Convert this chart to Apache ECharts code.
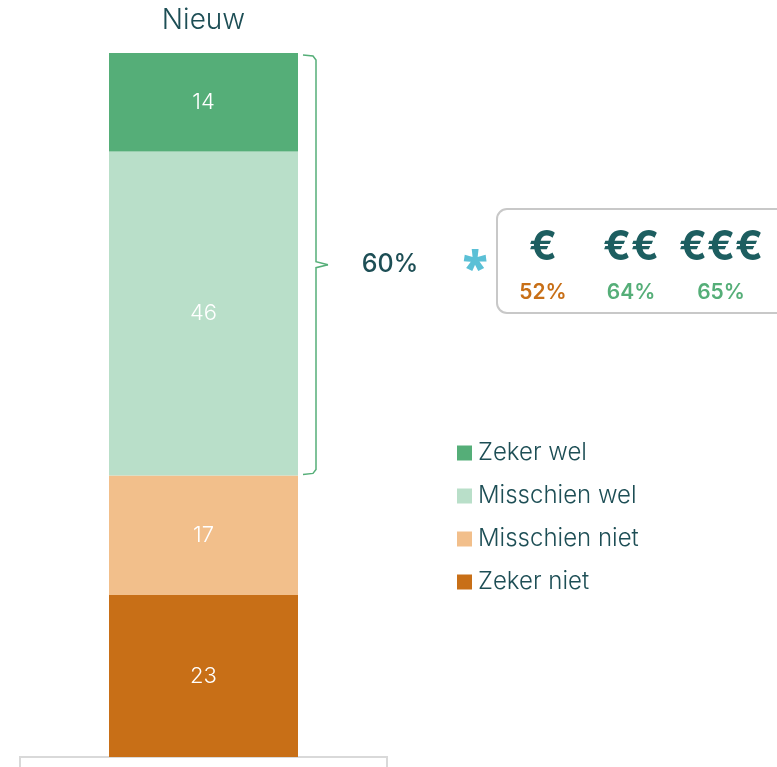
<!DOCTYPE html>
<html>
<head>
<meta charset="utf-8">
<script src="https://cdn.jsdelivr.net/npm/echarts@6/dist/echarts.min.js"></script>
<style>
  html, body { margin: 0; padding: 0; background: #fff; }
  #chart { width: 777px; height: 767px; }
</style>
</head>
<body>
<div id="chart"></div>
<script>
// data
var categories = ['Nieuw'];
var seriesNames = ['Zeker niet', 'Misschien niet', 'Misschien wel', 'Zeker wel'];
var seriesValues = [23, 17, 46, 14];
var seriesColors = ['#c86f17', '#f2bf8b', '#b9dfc9', '#55ae78'];
var legendOrder = ['Zeker wel', 'Misschien wel', 'Misschien niet', 'Zeker niet'];
var priceLabels = ['€', '€€', '€€€'];
var pricePercents = [52, 64, 65];
var priceColors = ['#c86f17', '#55ae78', '#55ae78'];

var textColor = '#1d4e55';
var font = 'Inter';

var el = document.getElementById('chart');
var chart = echarts.init(el);

var series = seriesNames.map(function (name, i) {
    return {
        name: name,
        type: 'bar',
        stack: 'total',
        barWidth: '100%',
        data: [seriesValues[i]],
        itemStyle: { color: seriesColors[i] },
        label: {
            show: true,
            position: 'inside',
            color: '#fff',
            fontFamily: font,
            fontWeight: 300,
            fontSize: 22
        }
    };
});

chart.setOption({
    animation: false,
    grid: { left: 109, width: 189, top: 53, bottom: 10 },
    xAxis: {
        type: 'category',
        position: 'top',
        data: categories,
        axisLine: { show: false },
        axisTick: { show: false },
        axisLabel: { color: textColor, fontFamily: font, fontWeight: 300, fontSize: 28, margin: 18 }
    },
    yAxis: { type: 'value', min: 0, max: 100, show: false },
    legend: {
        orient: 'vertical',
        left: 452,
        top: 436,
        itemGap: 19,
        itemWidth: 15,
        itemHeight: 15,
        icon: 'rect',
        data: legendOrder,
        textStyle: { color: textColor, fontFamily: font, fontWeight: 300, fontSize: 24, padding: [0, 0, 0, 1] }
    },
    series: series
});

// bracket + annotations, placed from the axis scale
function drawExtras() {
    var below = seriesValues[0] + seriesValues[1];
    var total = below + seriesValues[2] + seriesValues[3];
    var top = chart.convertToPixel({ gridIndex: 0 }, [categories[0], total]);
    var bottom = chart.convertToPixel({ gridIndex: 0 }, [categories[0], below]);
    var x = 316, y1 = top[1] + 2, y2 = bottom[1] - 1, ym = (y1 + y2) / 2;
    var share = seriesValues[2] + seriesValues[3];
    var bracketStyle = { stroke: '#55ae78', lineWidth: 1.5, fill: null };

    var elements = [
        { type: 'polyline', shape: { points: [[x - 13, y1], [x - 3, y1 + 1], [x, y1 + 5], [x, ym - 3], [x + 12, ym]] }, style: bracketStyle },
        { type: 'polyline', shape: { points: [[x + 12, ym], [x, ym + 3], [x, y2 - 5], [x - 3, y2 - 1], [x - 13, y2]] }, style: bracketStyle },
        { type: 'text', x: 390, y: ym, style: { text: share + '%', fill: textColor, font: '500 25px Inter', align: 'center', verticalAlign: 'middle' } },
        { type: 'text', x: 475, y: ym + 6, style: { text: '*', fill: '#5bc0d6', font: '900 46px "Noto Sans"', align: 'center', verticalAlign: 'middle' } },
        { type: 'rect', shape: { x: 497, y: 209, width: 290, height: 104, r: 10 }, style: { fill: '#fff', stroke: '#c8c8c8', lineWidth: 2 } },
        { type: 'rect', shape: { x: 20, y: 757, width: 367, height: 30 }, style: { fill: null, stroke: '#d9d9d9', lineWidth: 2 }, z: 0 }
    ];
    var px = [543, 631, 721];
    priceLabels.forEach(function (lbl, i) {
        elements.push({ type: 'text', x: px[i], y: 248, z: 10, style: { text: lbl, fill: '#1d5e60', font: 'bold 41px Inter', align: 'center', verticalAlign: 'middle' } });
        elements.push({ type: 'text', x: px[i], y: 293, z: 10, style: { text: pricePercents[i] + '%', fill: priceColors[i], font: '600 21px Inter', align: 'center', verticalAlign: 'middle' } });
    });
    chart.setOption({ graphic: { elements: elements } });
}
drawExtras();
</script>
</body>
</html>
